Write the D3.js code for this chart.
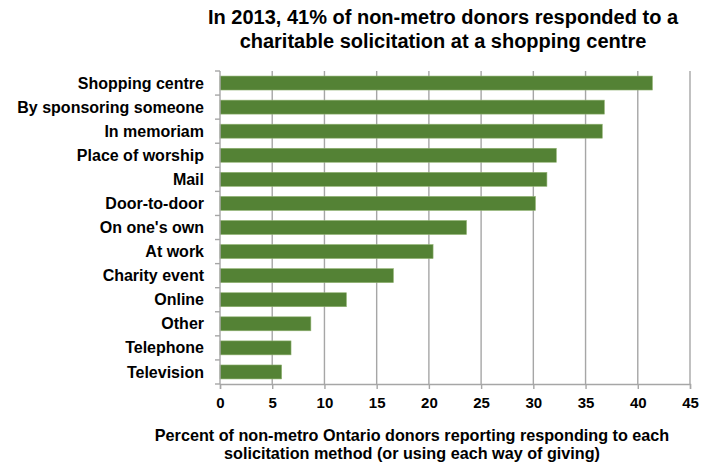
<!DOCTYPE html>
<html>
<head>
<meta charset="utf-8">
<script src="https://cdn.jsdelivr.net/npm/d3@7"></script>
<style>
  body { margin: 0; background: #fff; }
  text { font-family: "Liberation Sans", Arial, sans-serif; font-weight: bold; fill: #000; }
</style>
</head>
<body>
<div id="chart"></div>
<script>
var categories = ["Shopping centre", "By sponsoring someone", "In memoriam", "Place of worship", "Mail",
  "Door-to-door", "On one's own", "At work", "Charity event", "Online", "Other", "Telephone", "Television"];
var values = [41.4, 36.8, 36.6, 32.2, 31.3, 30.2, 23.6, 20.4, 16.6, 12.1, 8.7, 6.8, 5.9];
var xTicks = [0, 5, 10, 15, 20, 25, 30, 35, 40, 45];
var titleLines = ["In 2013, 41% of non-metro donors responded to a", "charitable solicitation at a shopping centre"];
var xTitleLines = ["Percent of non-metro Ontario donors reporting responding to each",
  "solicitation method (or using each way of giving)"];

var width = 714, height = 464;
var margin = {top: 71, right: 24, bottom: 80, left: 220};

var svg = d3.select("#chart").append("svg")
  .attr("width", width)
  .attr("height", height);

var x = d3.scaleLinear().domain([0, 45]).range([margin.left, width - margin.right]);
var y = d3.scaleBand().domain(categories).range([margin.top, height - margin.bottom]).paddingInner(0.42).paddingOuter(0.21);

// gridlines
svg.append("g").selectAll("line")
  .data(xTicks.slice(1))
  .enter().append("line")
  .attr("x1", function(d){ return x(d); })
  .attr("x2", function(d){ return x(d); })
  .attr("y1", margin.top)
  .attr("y2", height - margin.bottom)
  .attr("stroke", "#a6a6a6")
  .attr("stroke-width", 1.4);

// bars
svg.append("g").selectAll("rect")
  .data(values)
  .enter().append("rect")
  .attr("x", x(0))
  .attr("y", function(d, i){ return y(categories[i]); })
  .attr("width", function(d){ return x(d) - x(0); })
  .attr("height", y.bandwidth())
  .attr("fill", "#548235")
  .attr("stroke", "#8fb170")
  .attr("stroke-width", 0.6);

// y axis: line + ticks between categories
var yAxis = svg.append("g");
yAxis.append("line")
  .attr("x1", x(0)).attr("x2", x(0))
  .attr("y1", margin.top).attr("y2", height - margin.bottom)
  .attr("stroke", "#a6a6a6").attr("stroke-width", 1.4);
var step = y.step();
yAxis.selectAll("line.tick")
  .data(d3.range(categories.length + 1))
  .enter().append("line")
  .attr("class", "tick")
  .attr("x1", x(0) - 5).attr("x2", x(0))
  .attr("y1", function(i){ return margin.top + i * step; })
  .attr("y2", function(i){ return margin.top + i * step; })
  .attr("stroke", "#a6a6a6").attr("stroke-width", 1.4);
yAxis.selectAll("text")
  .data(categories)
  .enter().append("text")
  .attr("x", 204)
  .attr("y", function(d){ return y(d) + y.bandwidth() / 2; })
  .attr("dy", "0.35em")
  .attr("text-anchor", "end")
  .style("font-size", "16px")
  .text(function(d){ return d; });

// x axis
var xAxis = svg.append("g")
  .attr("transform", "translate(0," + (height - margin.bottom) + ")")
  .call(d3.axisBottom(x).tickValues(xTicks).tickSize(5).tickPadding(8));
xAxis.select(".domain").attr("stroke", "#a6a6a6").attr("stroke-width", 1.4);
xAxis.selectAll(".tick line").attr("stroke", "#a6a6a6").attr("stroke-width", 1.4);
xAxis.selectAll(".tick text")
  .style("font-family", "'Liberation Sans', Arial, sans-serif")
  .style("font-weight", "bold")
  .style("font-size", "15px")
  .attr("fill", "#000");

// title
svg.append("g").selectAll("text")
  .data(titleLines)
  .enter().append("text")
  .attr("x", 443)
  .attr("y", function(d, i){ return 24 + i * 24; })
  .attr("text-anchor", "middle")
  .style("font-size", "20px")
  .text(function(d){ return d; });

// x title
svg.append("g").selectAll("text")
  .data(xTitleLines)
  .enter().append("text")
  .attr("x", 412)
  .attr("y", function(d, i){ return 441 + i * 18; })
  .attr("text-anchor", "middle")
  .style("font-size", "16.2px")
  .text(function(d){ return d; });
</script>
</body>
</html>
